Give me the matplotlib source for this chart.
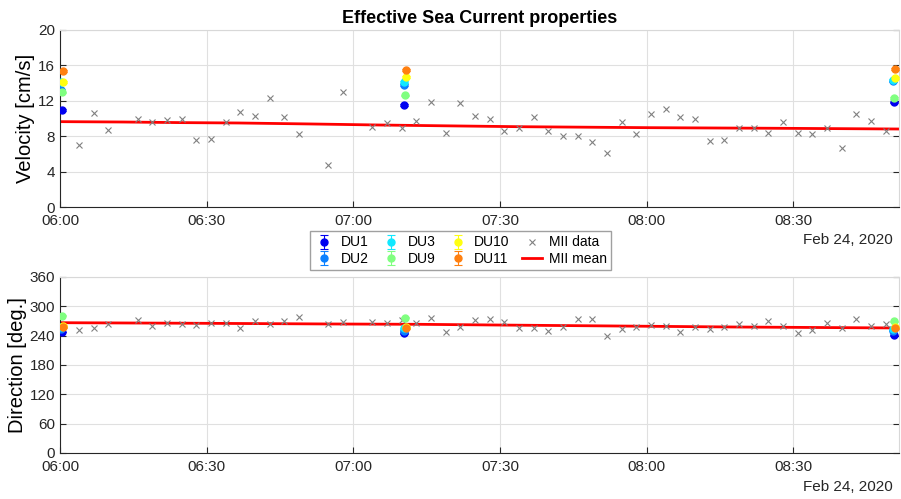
import datetime as dt
import numpy as np
import matplotlib
matplotlib.use('Agg')
import matplotlib.pyplot as plt
import matplotlib.dates as mdates

plt.rcParams['font.family'] = ['Liberation Sans', 'DejaVu Sans']
plt.rcParams['font.size'] = 10

t0 = dt.datetime(2020, 2, 24, 6, 0)

# MII data: one sample every 3 min, a few samples missing (nan)
mii_start_min = 3.9
mii_step_min = 3.0
mii_vel = [7.08, 10.59, 8.70, np.nan, 9.94, 9.64, 9.83, 9.98, 7.60, 7.68,
           9.60, 10.70, 10.32, 12.35, 10.13, 8.25, np.nan, 4.78, 13.00, np.nan,
           9.07, 9.46, 8.93, 9.68, 11.90, 8.36, 11.79, 10.28, 9.98, 8.55,
           8.89, 10.17, 8.66, 7.99, 7.99, 7.34, 6.18, 9.64, 8.25, 10.54,
           11.07, 10.17, 9.98, 7.46, 7.60, 8.89, 8.89, 8.36, 9.64, 8.36,
           8.25, 8.96, 6.74, 10.54, 9.75, 8.62]
mii_dir = [251.6, 256.3, 263.2, np.nan, 271.4, 260.4, 265.9, 264.5, 262.4, 265.9,
           265.9, 255.0, 270.6, 263.2, 270.0, 278.8, np.nan, 263.2, 267.3, np.nan,
           268.6, 266.5, 272.0, 266.5, 276.7, 246.9, 257.1, 272.7, 274.1, 268.0,
           255.0, 255.7, 250.2, 257.7, 273.5, 273.5, 238.7, 254.3, 258.4, 262.4,
           259.8, 248.1, 258.4, 253.0, 258.4, 263.2, 260.4, 269.4, 260.4, 246.1,
           251.6, 265.9, 256.3, 273.5, 260.4, 263.2]

# MII mean (running mean), breakpoints in minutes after 06:00
mean_vel_min = [0, 12.9, 25.0, 36.4, 51.1, 65.5, 81.8, 94.1, 120.7, 147.3, 171.8]
mean_vel = [9.66, 9.62, 9.55, 9.51, 9.40, 9.28, 9.17, 9.09, 8.98, 8.91, 8.83]
mean_dir_min = [0, 28.6, 55.2, 73.6, 89.0, 113.5, 138.0, 171.8]
mean_dir = [266.5, 265.3, 263.9, 263.2, 261.8, 259.8, 257.7, 255.7]

# DU measurements at three survey times (minutes after 06:00)
du_names = ['DU1', 'DU2', 'DU3', 'DU9', 'DU10', 'DU11']
du_colors = ['#0000f0', '#0a80ff', '#10e8ff', '#80ff80', '#ffff10', '#ff8010']
du_min = [[0.4, 70.4, 170.6], [0.3, 70.4, 170.5], [0.3, 70.4, 170.5],
          [0.5, 70.5, 170.7], [0.6, 70.7, 170.9], [0.6, 70.7, 170.9]]
du_vel = [[10.96, 11.53, 11.83], [13.20, 13.82, 14.20], [14.16, 14.09, 14.35],
          [12.96, 12.62, 12.30], [14.09, 14.72, 14.60], [15.40, 15.48, 15.60]]
du_dir = [[247.5, 245.0, 240.7], [253.0, 250.0, 250.0], [257.0, 255.0, 253.0],
          [280.8, 276.8, 269.4], [259.8, 258.0, 258.0], [257.0, 255.0, 255.0]]
du_vel_err = 0.1
du_dir_err = 1.0

x_end_min = 171.6


def to_time(minutes):
    return [t0 + dt.timedelta(minutes=float(m)) for m in minutes]


mii_t = to_time(mii_start_min + mii_step_min * np.arange(len(mii_vel)))

fig = plt.figure(figsize=(9.01, 4.99), dpi=100)
ax1 = fig.add_axes([0.0666, 0.5846, 0.931, 0.3553])
ax2 = fig.add_axes([0.0666, 0.0922, 0.931, 0.3527])

panels = [(ax1, du_vel, du_vel_err, mii_vel, mean_vel_min, mean_vel,
           'Velocity [cm/s]', np.arange(0, 21, 4)),
          (ax2, du_dir, du_dir_err, mii_dir, mean_dir_min, mean_dir,
           'Direction [deg.]', np.arange(0, 361, 60))]

leg_handles = []
for ax, dvals, derr, mvals, mmin, mline, ylab, yt in panels:
    hs = []
    for name, col, tm, v in zip(du_names, du_colors, du_min, dvals):
        h = ax.errorbar(to_time(tm), v, yerr=derr, fmt='o', color=col, ms=5,
                        capsize=3, elinewidth=0.8, capthick=0.8, label=name,
                        zorder=4)
        hs.append(h)
    h, = ax.plot(mii_t, mvals, 'x', color='#808080', ms=4, mew=0.8,
                 label='MII data', zorder=3)
    hs.append(h)
    h, = ax.plot(to_time(mmin), mline, '-', color='#ff0000', lw=2,
                 label='MII mean', zorder=2)
    hs.append(h)
    if not leg_handles:
        leg_handles = hs
    ax.set_xlim(t0, t0 + dt.timedelta(minutes=x_end_min))
    ax.set_ylim(yt[0], yt[-1])
    ax.set_yticks(yt)
    ax.set_ylabel(ylab, fontsize=14.5, labelpad=2)
    ax.xaxis.set_major_locator(mdates.MinuteLocator(byminute=[0, 30]))
    ax.xaxis.set_major_formatter(mdates.DateFormatter('%H:%M'))
    ax.grid(True, color='#e0e0e0', lw=0.8)
    ax.set_axisbelow(True)
    ax.tick_params(direction='in', labelsize=11, colors='#262626',
                   right=True, length=4)
    ax.tick_params(axis='x', pad=5)
    for s in ['left', 'bottom']:
        ax.spines[s].set_color('#262626')
    for s in ['top', 'right']:
        ax.spines[s].set_color('#d8d8d8')

ax1.set_title('Effective Sea Current properties', fontsize=13,
              fontweight='bold', pad=5)
fig.text(0.991, 0.519, 'Feb 24, 2020', ha='right', va='center', fontsize=11,
         color='#262626')
fig.text(0.991, 0.025, 'Feb 24, 2020', ha='right', va='center', fontsize=11,
         color='#262626')

fig.legend(leg_handles, [h.get_label() for h in leg_handles], loc='center',
           bbox_to_anchor=(0.511, 0.498), ncol=4, fontsize=10,
           fancybox=False, edgecolor='#a0a0a0', framealpha=1,
           handlelength=1.4, handletextpad=0.5, columnspacing=0.9,
           borderpad=0.3, labelspacing=0.15)

fig.savefig('out.png', dpi=100)
